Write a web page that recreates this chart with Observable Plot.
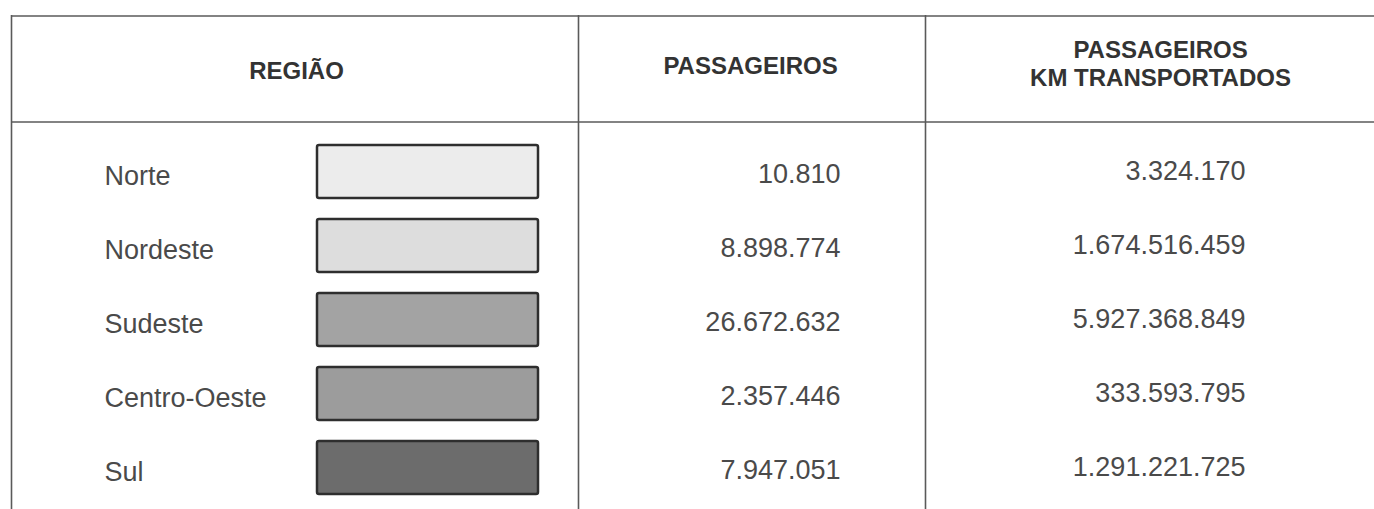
<!DOCTYPE html>
<html>
<head>
<meta charset="utf-8">
<script src="https://cdn.jsdelivr.net/npm/d3@7"></script>
<script src="https://cdn.jsdelivr.net/npm/@observablehq/plot@0.6"></script>
<style>
  html, body { margin: 0; padding: 0; background: #fff; }
  #chart svg { display: block; }
</style>
</head>
<body>
<div id="chart"></div>
<script>
const regions = ["Norte", "Nordeste", "Sudeste", "Centro-Oeste", "Sul"];
const passageiros = [10810, 8898774, 26672632, 2357446, 7947051];
const passageirosKm = [3324170, 1674516459, 5927368849, 333593795, 1291221725];
const shades = ["#ececec", "#dddddd", "#a3a3a3", "#9c9c9c", "#6c6c6c"];
const headers = ["REGIÃO", "PASSAGEIROS", "PASSAGEIROS\nKM TRANSPORTADOS"];

const fmt = d3.formatLocale({decimal: ",", thousands: ".", grouping: [3], currency: ["R$", ""]}).format(",d");
const rows = regions.map((r, i) => ({region: r, pass: passageiros[i], pkm: passageirosKm[i], shade: shades[i]}));

const first = regions[0];
const font = "'Liberation Sans', Arial, Helvetica, sans-serif";
const lineColor = "#5a5a5a";

const chart = Plot.plot({
  width: 1374,
  height: 509,
  marginTop: 15, marginBottom: 0, marginLeft: 0, marginRight: 0,
  style: {fontFamily: font, background: "#fff"},
  x: {domain: [0, 1374], range: [0, 1374], axis: null},
  y: {type: "band", domain: regions, range: [134, 504], paddingInner: 0.284, paddingOuter: 0.142, axis: null},
  marks: [
    // vertical column separators
    Plot.ruleX([11, 578, 925], {stroke: lineColor, strokeWidth: 1.6}),
    // top border and header bottom
    Plot.ruleY([first], {y: d => d, x1: 11, x2: 1374, dy: -156, stroke: lineColor, strokeWidth: 1.6}),
    Plot.ruleY([first], {y: d => d, x1: 11, x2: 1374, dy: -50, stroke: lineColor, strokeWidth: 1.6}),
    // header texts
    Plot.text([headers[0]], {text: d => d, x: 296, y: () => first, dy: -101, fontSize: 24, fontWeight: "bold", fill: "#333"}),
    Plot.text([headers[1]], {text: d => d, x: 750, y: () => first, dy: -106, fontSize: 24, fontWeight: "bold", fill: "#333"}),
    Plot.text([headers[2]], {text: d => d, x: 1160, y: () => first, dy: -109, fontSize: 24, fontWeight: "bold", fill: "#333", lineHeight: 1.17}),
    // swatches
    Plot.barX(rows, {x1: 317, x2: 538, y: "region", fill: "shade", stroke: "#2e2e2e", strokeWidth: 2.5, rx: 2}),
    // region labels
    Plot.text(rows, {text: "region", x: 104, y: "region", dy: 4, textAnchor: "start", fontSize: 27, fill: "#4a4a4a"}),
    // values
    Plot.text(rows, {text: d => fmt(d.pass), x: 840, y: "region", dy: 2, textAnchor: "end", fontSize: 27, fill: "#4a4a4a"}),
    Plot.text(rows, {text: d => fmt(d.pkm), x: 1245, y: "region", dy: -1, textAnchor: "end", fontSize: 27, fill: "#4a4a4a"})
  ]
});
document.getElementById("chart").appendChild(chart);
</script>
</body>
</html>
